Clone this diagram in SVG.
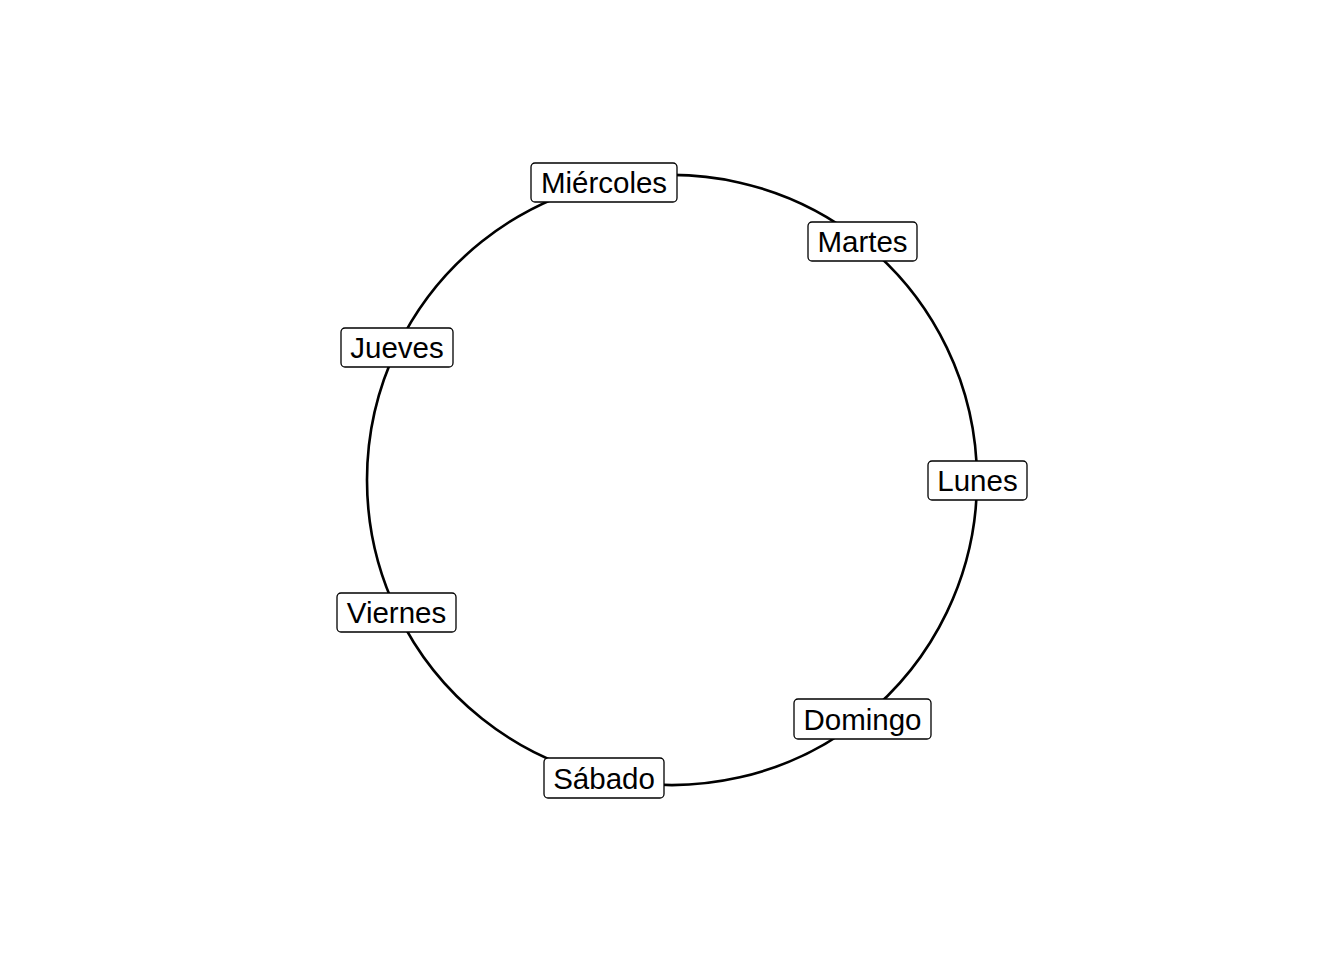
<svg xmlns="http://www.w3.org/2000/svg" width="1344" height="960" viewBox="0 0 1344 960">
<style>
.edge{fill:none;stroke:#000;stroke-width:2.6}
.box{fill:#fff;stroke:#000;stroke-width:1.3}
.lbl{font-family:"Liberation Sans",Arial,sans-serif;font-size:29.5px;text-anchor:middle;fill:#000}
</style>
<rect width="1344" height="960" fill="#fff"/>
<g id="connectors">
<path class="edge" d="M977,480 A305,305 0 0 0 862.16,241.54"/>
<path class="edge" d="M862.16,241.54 A305,305 0 0 0 604.13,182.65"/>
<path class="edge" d="M604.13,182.65 A305,305 0 0 0 397.2,347.67"/>
<path class="edge" d="M397.2,347.67 A305,305 0 0 0 397.2,612.33"/>
<path class="edge" d="M397.2,612.33 A305,305 0 0 0 604.13,777.35"/>
<path class="edge" d="M604.13,777.35 A305,305 0 0 0 862.16,718.46"/>
<path class="edge" d="M862.16,718.46 A305,305 0 0 0 977,480"/>
</g>
<g id="lunes"><rect class="box" x="928" y="461" width="99" height="39" rx="4"/><text class="lbl" x="977.5" y="491">Lunes</text></g>
<g id="martes"><rect class="box" x="808" y="222" width="109" height="39" rx="4"/><text class="lbl" x="862.5" y="252">Martes</text></g>
<g id="miercoles"><rect class="box" x="531" y="163" width="146" height="39" rx="4"/><text class="lbl" x="604" y="193">Miércoles</text></g>
<g id="jueves"><rect class="box" x="341" y="328" width="112" height="39" rx="4"/><text class="lbl" x="397" y="358">Jueves</text></g>
<g id="viernes"><rect class="box" x="337" y="593" width="119" height="39" rx="4"/><text class="lbl" x="396.5" y="623">Viernes</text></g>
<g id="sabado"><rect class="box" x="544" y="758" width="120" height="40" rx="4"/><text class="lbl" x="604" y="788.5">Sábado</text></g>
<g id="domingo"><rect class="box" x="794" y="699" width="137" height="40" rx="4"/><text class="lbl" x="862.5" y="729.5">Domingo</text></g>
</svg>
